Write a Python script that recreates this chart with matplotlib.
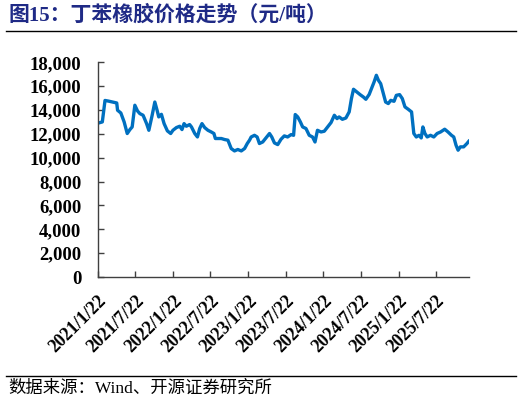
import matplotlib
matplotlib.use("Agg")
import matplotlib.pyplot as plt
import pandas as pd

dates = [
    "2021-01-22", "2021-02-12", "2021-02-25", "2021-03-13", "2021-04-23", "2021-04-27",
    "2021-05-13", "2021-05-29", "2021-06-13", "2021-06-26", "2021-07-07", "2021-07-20",
    "2021-08-02", "2021-08-13", "2021-08-29", "2021-09-15", "2021-09-26", "2021-10-12",
    "2021-10-25", "2021-11-05", "2021-11-13", "2021-11-26", "2021-12-09", "2021-12-25",
    "2022-01-10", "2022-01-21", "2022-02-07", "2022-02-23", "2022-03-06", "2022-03-16",
    "2022-03-27", "2022-04-12", "2022-04-21", "2022-05-07", "2022-05-20", "2022-05-31",
    "2022-06-11", "2022-06-24", "2022-07-10", "2022-07-26", "2022-08-08", "2022-08-15",
    "2022-09-13", "2022-09-29", "2022-10-15", "2022-10-31", "2022-11-16", "2022-12-02",
    "2022-12-19", "2023-01-04", "2023-01-17", "2023-01-28", "2023-02-05", "2023-02-21",
    "2023-03-06", "2023-03-17", "2023-04-02", "2023-04-19", "2023-05-05", "2023-05-16",
    "2023-05-29", "2023-06-14", "2023-06-30", "2023-07-16", "2023-08-01", "2023-08-18",
    "2023-08-30", "2023-09-07", "2023-09-19", "2023-10-02", "2023-10-13", "2023-10-29",
    "2023-11-14", "2023-11-30", "2023-12-12", "2023-12-24", "2024-01-10", "2024-01-26",
    "2024-02-11", "2024-02-28", "2024-03-15", "2024-03-28", "2024-04-07", "2024-04-23",
    "2024-05-10", "2024-05-26", "2024-06-06", "2024-06-16", "2024-07-02", "2024-07-18",
    "2024-08-03", "2024-08-15", "2024-08-31", "2024-09-11", "2024-09-24", "2024-10-05",
    "2024-10-15", "2024-10-26", "2024-11-06", "2024-11-19", "2024-12-02", "2024-12-14",
    "2024-12-30", "2025-01-10", "2025-01-26", "2025-02-08", "2025-02-21", "2025-03-09",
    "2025-03-25", "2025-04-05", "2025-04-17", "2025-04-30", "2025-05-11", "2025-05-19",
    "2025-05-29", "2025-06-09", "2025-06-25", "2025-07-11", "2025-07-27", "2025-08-13",
    "2025-09-02", "2025-09-18", "2025-10-05", "2025-10-16", "2025-10-27", "2025-11-06",
    "2025-11-17", "2025-12-03", "2025-12-19", "2025-12-28",
]
prices = [
    12900, 13000, 14800, 14750, 14590, 13980,
    13750, 13000, 12030, 12360, 12580, 14400,
    13920, 13700, 13560, 12860, 12300, 13560,
    14670, 13980, 13420, 13640, 12860, 12250,
    12030, 12300, 12530, 12640, 12360, 12860,
    12640, 12780, 12580, 12030, 11740, 12450,
    12860, 12530, 12300, 12160, 12030, 11610,
    11610, 11525, 11470, 10770, 10570, 10690,
    10570, 10770, 11190, 11470, 11740, 11880,
    11740, 11190, 11320, 11690, 12030, 11740,
    11240, 11100, 11550, 11830, 11740, 11940,
    11880, 13620, 13420, 13000, 12580, 12450,
    11880, 11740, 11320, 12300, 12160, 12220,
    12580, 12950, 13560, 13280, 13420, 13220,
    13330, 13840, 14960, 15740, 15510, 15290,
    15090, 14900, 15300, 15790, 16350, 16910,
    16490, 16210, 15510, 14670, 14540, 14810,
    14730, 15230, 15290, 14960, 14260, 14060,
    13840, 12030, 11740, 11880, 11660, 12580,
    12030, 11740, 11880, 11740, 12030, 12160,
    12390, 12160, 11880, 11740, 11050, 10630,
    10910, 10910, 11190, 11380,
]
tick_dates = ["2021-01-22", "2021-07-22", "2022-01-22", "2022-07-22", "2023-01-22",
              "2023-07-22", "2024-01-22", "2024-07-22", "2025-01-22", "2025-07-22"]
tick_labels = ["2021/1/22", "2021/7/22", "2022/1/22", "2022/7/22", "2023/1/22",
               "2023/7/22", "2024/1/22", "2024/7/22", "2025/1/22", "2025/7/22"]
yticks = list(range(0, 18001, 2000))

title = "图15：丁苯橡胶价格走势（元/吨）"
source = "数据来源：Wind、开源证券研究所"

serif_cjk = ["Liberation Serif", "Noto Sans CJK SC"]

fig = plt.figure(figsize=(5.22, 4.05), dpi=100)
ax = fig.add_axes([98/522, 1-277/405, (469-98)/522, (277-62.3)/405])

x = pd.to_datetime(dates)
ax.plot(x, prices, color="#0070C0", linewidth=2.4, solid_joinstyle="round")

ax.set_ylim(0, 18000)
ax.set_xlim(pd.Timestamp("2021-01-22"), pd.Timestamp("2025-12-29"))
ax.set_yticks(yticks)
ax.set_yticklabels([f"{v:,}" for v in yticks], fontfamily="Liberation Serif",
                   fontweight="bold", fontsize=13.5)
ax.set_xticks(pd.to_datetime(tick_dates))
ax.set_xticklabels(tick_labels, rotation=45, ha="right", va="top",
                   rotation_mode="anchor", fontfamily="Liberation Serif",
                   fontweight="bold", fontsize=13)

for s in ["top", "right"]:
    ax.spines[s].set_visible(False)
for s in ["left", "bottom"]:
    ax.spines[s].set_color("#404040")
    ax.spines[s].set_linewidth(1.0)
ax.tick_params(axis="both", direction="in", length=4, width=1, color="#404040")
ax.tick_params(axis="y", pad=12)
ax.tick_params(axis="x", pad=11)

fig.text(8/522, 1-15.5/405, title, fontsize=15, fontweight="bold", color="#1F2A86",
         family=serif_cjk, va="center", ha="left")
fig.add_artist(plt.Line2D([6/522, 516/522], [1-31/405, 1-31/405], color="black", linewidth=1.0))
fig.add_artist(plt.Line2D([6/522, 516/522], [1-376/405, 1-376/405], color="black", linewidth=1.0))
fig.text(8/522, 1-389/405, source, fontsize=12.5, color="black", family=serif_cjk,
         va="center", ha="left")

fig.savefig("out.png", dpi=100)
